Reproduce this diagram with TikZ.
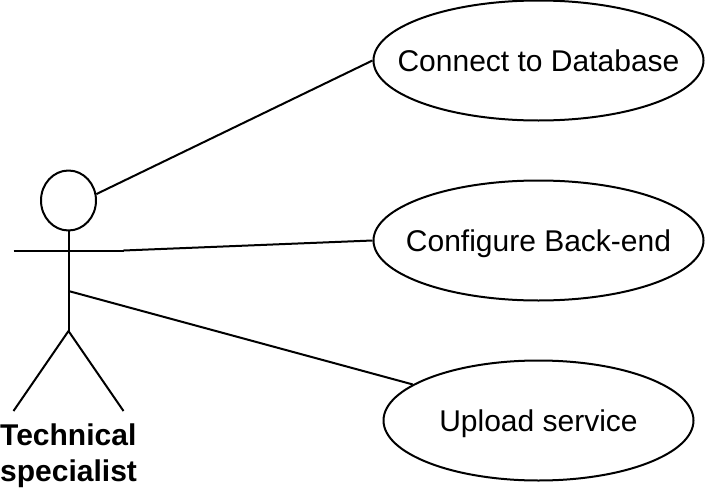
\documentclass[tikz,border=0pt]{standalone}
\usepackage{fontspec}
\setmainfont{Liberation Sans}
\usetikzlibrary{shapes.geometric}
\tikzset{
  usecase/.style={draw, ellipse, line width=2pt, inner xsep=-60pt, inner ysep=0pt, text height=21.5pt, text depth=0pt, font=\fontsize{30pt}{36pt}\selectfont},
  limb/.style={line width=2pt},
}
\begin{document}
\begin{tikzpicture}[x=1pt,y=-1pt,line join=round]
    \useasboundingbox (0,0) rectangle (705,490);
    % Actor
    \node[draw, ellipse, line width=2pt, minimum width=55pt, minimum height=60pt, inner sep=0pt] (head) at (68.5,200.5) {};
    \coordinate (neck) at (68.5,231);
    \coordinate (hip) at (68.5,331);
    \coordinate (waist) at (68.5,291);
    \coordinate (armL) at (13.5,250.5);
    \coordinate (armR) at (123.5,250.5);
    \coordinate (footL) at (13.5,411);
    \coordinate (footR) at (123.5,411);
    \draw[limb] (neck) -- (hip);
    \draw[limb] (armL) -- (armR);
    \draw[limb] (footL) -- (hip) -- (footR);
    \node[font=\bfseries\fontsize{30pt}{36pt}\selectfont, align=left, anchor=north west, inner sep=0pt] (actorlabel) at (0,424) {Technical\\specialist};
    % Use cases
    \node[usecase, minimum width=330pt, minimum height=120pt] (database) at (538.5,60.5) {Connect to Database};
    \node[usecase, minimum width=330pt, minimum height=120pt] (backend) at (538.5,240.5) {Configure Back-end};
    \node[usecase, minimum width=310pt, minimum height=120pt] (upload) at (538.5,420.5) {Upload service};
    % Links
    \draw[limb] (head.13) -- (database.west);
    \draw[limb] (armR) -- (backend.west);
    \draw[limb] (waist) -- (upload.164);
\end{tikzpicture}
\end{document}
